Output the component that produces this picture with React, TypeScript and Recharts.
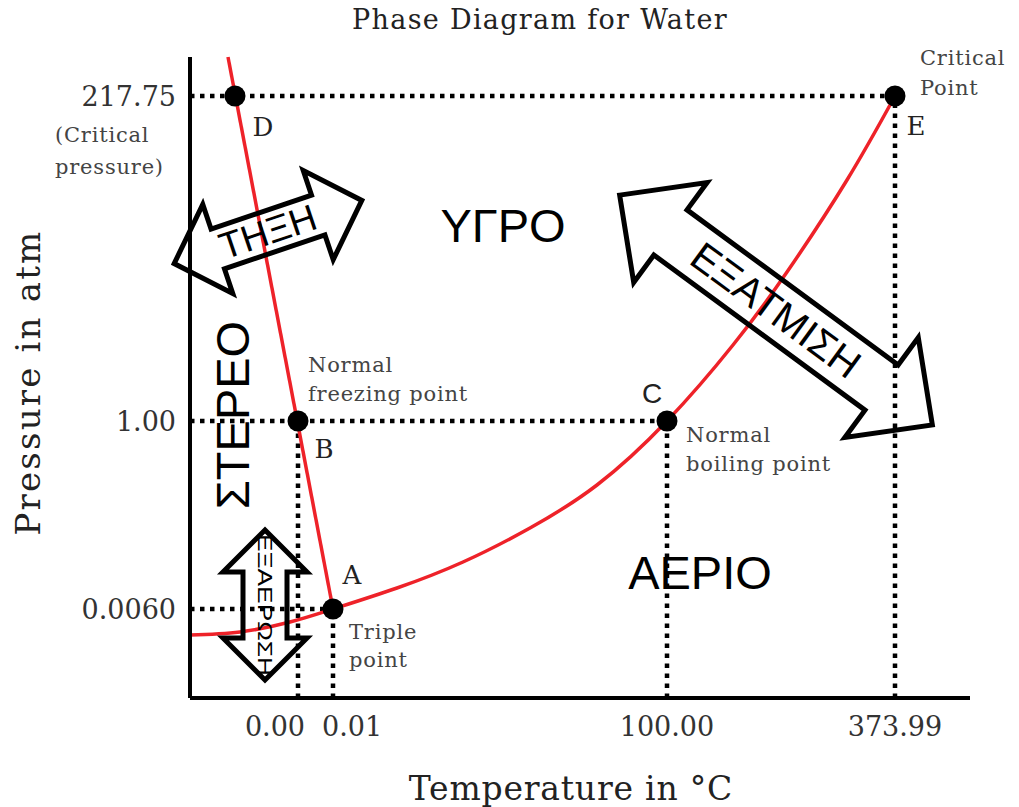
import { ComposedChart, Line, Scatter, XAxis, YAxis, ReferenceLine, Label } from 'recharts';

// Schematic diagram (not to scale): x = units right of the pressure axis, y = units above the temperature axis.
const xTickPos = [108, 143, 477, 705];
const xTickLabels = ['0.00', '0.01', '100.00', '373.99'];
const yTickPos = [89, 277, 602];
const yTickLabels = ['0.0060', '1.00', '217.75'];

// solid/liquid boundary (through D, B, A)
const fusionX = [38, 143];
const fusionY = [641, 89];

// sublimation + vaporization curve (through A, C, E)
const vaporX = [0, 50, 100, 143, 207, 273, 340, 407, 477, 543, 597, 657, 705];
const vaporY = [63, 66, 76, 89, 110, 136, 170, 213, 277, 353, 426, 518, 602];

const pointNames = ['D', 'B', 'A', 'C', 'E'];
const pointX = [45, 108, 143, 477, 705];
const pointY = [602, 277, 89, 277, 602];

const letterX = [73, 134, 162, 462, 726];
const letterY = [571, 249, 123, 305, 572];

const noteText = ['Normal', 'freezing point', 'Triple', 'point', 'Normal', 'boiling point', 'Critical', 'Point'];
const noteX = [118, 118, 159, 159, 496, 496, 730, 730];
const noteY = [333, 304, 66, 38, 263, 234, 640, 610];

const phaseText = ['ΥΓΡΟ', 'ΑΕΡΙΟ', 'ΣΤΕΡΕΟ'];
const phaseX = [313, 510, 42];
const phaseY = [473, 126, 283];
const phaseAngle = [0, 0, -90];

const arrowText = ['ΤΗΞΗ', 'ΕΞΑΤΜΙΣΗ', 'ΕΞΑΕΡΩΣΗ'];
const arrowX = [78, 586, 75];
const arrowY = [466, 388, 93];
// half length, head length, head half width, shaft half width, angle, font size, text length
const arrowGeom = [
  { L: 99, h: 46, H: 47, s: 21, angle: -18.6, fs: 37, tl: 0 },
  { L: 194, h: 63, H: 62, s: 28, angle: 36.3, fs: 40, tl: 0 },
  { L: 75, h: 42, H: 42, s: 22, angle: 90, fs: 21, tl: 142 },
];

const fusion = fusionX.map((x, i) => ({ x, y: fusionY[i] }));
const vapor = vaporX.map((x, i) => ({ x, y: vaporY[i] }));
const points = pointNames.map((name, i) => ({ x: pointX[i], y: pointY[i], name }));
const letters = pointNames.map((text, i) => ({ x: letterX[i], y: letterY[i], text }));
const notes = noteText.map((text, i) => ({ x: noteX[i], y: noteY[i], text }));
const phases = phaseText.map((text, i) => ({ x: phaseX[i], y: phaseY[i], text, i }));
const arrows = arrowText.map((text, i) => ({ x: arrowX[i], y: arrowY[i], text, i }));

const serif = '"DejaVu Serif", "Liberation Serif", serif';
const sans = '"Liberation Sans", Arial, sans-serif';
const red = '#ee2229';
const dotted = { stroke: '#000', strokeWidth: 4.5, strokeDasharray: '4.5 5.5' };

const guides = [
  [{ x: 0, y: pointY[2] }, { x: pointX[2], y: pointY[2] }],
  [{ x: 0, y: pointY[3] }, { x: pointX[3], y: pointY[3] }],
  [{ x: 0, y: pointY[4] }, { x: pointX[4], y: pointY[4] }],
  [{ x: pointX[1], y: 0 }, { x: pointX[1], y: pointY[1] }],
  [{ x: pointX[2], y: 0 }, { x: pointX[2], y: pointY[2] }],
  [{ x: pointX[3], y: 0 }, { x: pointX[3], y: pointY[3] }],
  [{ x: pointX[4], y: 0 }, { x: pointX[4], y: pointY[4] }],
];

const YTick = (props: any) => {
  const { x, y, payload } = props;
  const label = yTickLabels[yTickPos.indexOf(payload.value)];
  return (
    <g>
      <text x={x} y={y} textAnchor="end" dominantBaseline="central" fontFamily={serif} fontSize={27} fill="#333">
        {label}
      </text>
      {payload.value === yTickPos[2] && (
        <text fontFamily={serif} fontSize={21} fill="#444" letterSpacing={0.8}>
          <tspan x={47} y={y + 46}>(Critical</tspan>
          <tspan x={47} y={y + 78}>pressure)</tspan>
        </text>
      )}
    </g>
  );
};

// the two close ticks near 0 °C are pushed apart, as in the original figure
const xTickAnchor = ['end', 'start', 'middle', 'middle'];
const xTickShift = [7, -11, 0, 0];

const XTick = (props: any) => {
  const { x, y, payload } = props;
  const k = xTickPos.indexOf(payload.value);
  return (
    <text x={x + xTickShift[k]} y={y + 38} textAnchor={xTickAnchor[k]} fontFamily={serif} fontSize={27} fill="#333">
      {xTickLabels[k]}
    </text>
  );
};

const Dot = (props: any) => <circle cx={props.cx} cy={props.cy} r={10.5} fill="#000" />;

const LetterShape = (props: any) => {
  const isC = props.payload.text === 'C';
  return (
    <text
      x={props.cx}
      y={props.cy}
      textAnchor="middle"
      dominantBaseline="central"
      fontFamily={isC ? sans : serif}
      fontSize={isC ? 28 : 26}
      fill="#222"
    >
      {props.payload.text}
    </text>
  );
};

const NoteShape = (props: any) => (
  <text x={props.cx} y={props.cy} dominantBaseline="central" fontFamily={serif} fontSize={21} letterSpacing={0.8} fill="#444">
    {props.payload.text}
  </text>
);

const PhaseShape = (props: any) => {
  const { cx, cy, payload } = props;
  const a = phaseAngle[payload.i];
  return (
    <text
      x={cx}
      y={cy}
      textAnchor="middle"
      dominantBaseline="central"
      fontFamily={sans}
      fontSize={47}
      fill="#000"
      transform={a ? `rotate(${a} ${cx} ${cy})` : undefined}
    >
      {payload.text}
    </text>
  );
};

const ArrowShape = (props: any) => {
  const { cx, cy, payload } = props;
  const { L, h, H, s, angle, fs, tl } = arrowGeom[payload.i];
  const pts = [
    [-L, 0], [-L + h, -H], [-L + h, -s], [L - h, -s], [L - h, -H],
    [L, 0], [L - h, H], [L - h, s], [-L + h, s], [-L + h, H],
  ].map((p) => p.join(',')).join(' ');
  return (
    <g transform={`translate(${cx} ${cy}) rotate(${angle})`}>
      <polygon points={pts} fill="none" stroke="#000" strokeWidth={5} strokeLinejoin="miter" />
      <text
        x={0}
        y={0}
        textAnchor="middle"
        dominantBaseline="central"
        fontFamily={sans}
        fontSize={fs}
        fill="#000"
        {...(tl ? { textLength: tl, lengthAdjust: 'spacingAndGlyphs' } : {})}
      >
        {payload.text}
      </text>
    </g>
  );
};

export default function App() {
  return (
    <div style={{ position: 'relative', width: 1011, height: 799 }}>
      <div
        style={{
          position: 'absolute',
          left: 532,
          top: 0,
          transform: 'translateX(-50%)',
          fontFamily: serif,
          fontSize: 27,
          letterSpacing: 1.3,
          lineHeight: '24px',
          color: '#222',
          whiteSpace: 'nowrap',
        }}
      >
        Phase Diagram for Water
      </div>
      <ComposedChart width={1011} height={799} margin={{ top: 49, right: 49, bottom: 9, left: 0 }}>
        <XAxis
          type="number"
          dataKey="x"
          domain={[0, 780]}
          ticks={xTickPos}
          tick={<XTick />}
          tickLine={false}
          tickSize={0}
          tickMargin={0}
          height={100}
          axisLine={{ stroke: '#000', strokeWidth: 4 }}
        >
          <Label
            value="Temperature in °C"
            position="insideBottom"
            offset={-2}
            dx={-9}
            style={{ fontFamily: serif, fontSize: 33, letterSpacing: 0.8, fill: '#222' }}
          />
        </XAxis>
        <YAxis
          type="number"
          dataKey="y"
          domain={[0, 641]}
          ticks={yTickPos}
          tick={<YTick />}
          tickLine={false}
          tickSize={0}
          tickMargin={14}
          width={182}
          axisLine={{ stroke: '#000', strokeWidth: 4 }}
        >
          <Label
            value="Pressure in atm"
            angle={-90}
            position="insideLeft"
            offset={20}
            dy={5}
            style={{ fontFamily: serif, fontSize: 34, letterSpacing: 2.2, fill: '#222', textAnchor: 'middle' }}
          />
        </YAxis>
        {guides.map((seg, i) => (
          <ReferenceLine key={i} segment={seg} {...dotted} />
        ))}
        <Line data={fusion} dataKey="y" type="linear" stroke={red} strokeWidth={3.5} dot={false} isAnimationActive={false} legendType="none" />
        <Line data={vapor} dataKey="y" type="natural" stroke={red} strokeWidth={3.5} dot={false} isAnimationActive={false} legendType="none" />
        <Scatter data={points} shape={Dot} isAnimationActive={false} legendType="none" />
        <Scatter data={letters} shape={LetterShape} isAnimationActive={false} legendType="none" />
        <Scatter data={notes} shape={NoteShape} isAnimationActive={false} legendType="none" />
        <Scatter data={phases} shape={PhaseShape} isAnimationActive={false} legendType="none" />
        <Scatter data={arrows} shape={ArrowShape} isAnimationActive={false} legendType="none" />
      </ComposedChart>
    </div>
  );
}
